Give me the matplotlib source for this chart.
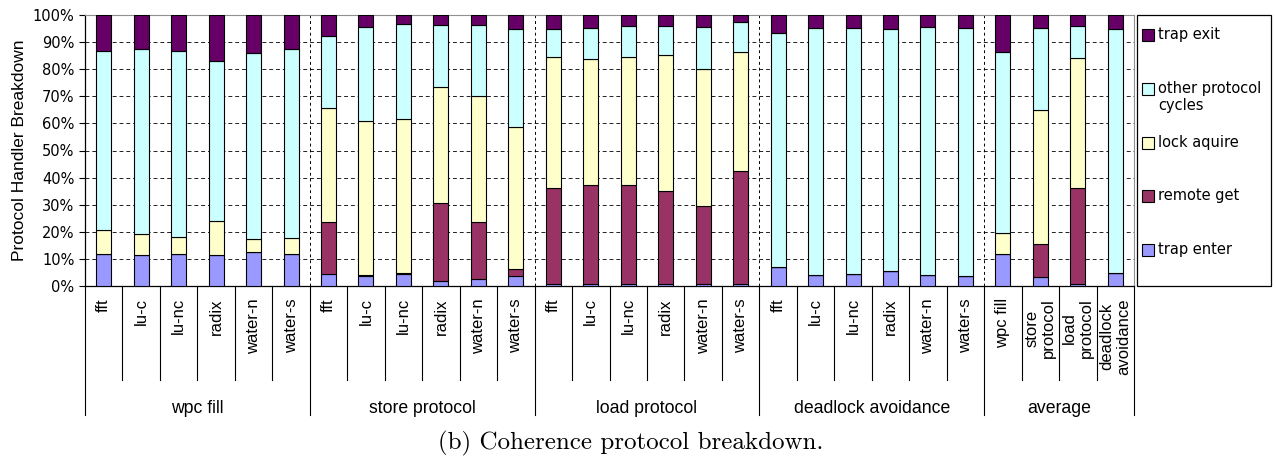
import numpy as np
import matplotlib
matplotlib.use('Agg')
import matplotlib.pyplot as plt
from matplotlib.patches import Rectangle
from matplotlib.ticker import FuncFormatter

# segment sizes in percent, one value per bar (6 benchmarks x 4 groups + 4 averages)
groups = ['wpc fill', 'store protocol', 'load protocol', 'deadlock avoidance', 'average']
benchmarks = ['fft', 'lu-c', 'lu-nc', 'radix', 'water-n', 'water-s']
avg_labels = ['wpc fill', 'store\nprotocol', 'load\nprotocol', 'deadlock\navoidance']

trap_enter = [11.8, 11.3, 11.7, 11.3, 12.4, 11.7,
	4.3, 3.8, 4.4, 1.8, 2.5, 3.6,
	0.7, 0.6, 0.6, 0.6, 0.9, 0.6,
	7.1, 4.2, 4.3, 5.4, 3.9, 3.7,
	11.7, 3.4, 0.6, 4.7]
remote_get = [0, 0, 0, 0, 0, 0,
	19.3, 0.2, 0.5, 29.0, 21.1, 2.8,
	35.5, 36.6, 36.7, 34.6, 28.5, 41.8,
	0, 0, 0, 0, 0, 0,
	0, 12.2, 35.7, 0]
lock_aquire = [9.0, 7.8, 6.3, 12.7, 5.0, 6.0,
	42.2, 57.0, 56.7, 42.7, 46.5, 52.1,
	48.4, 46.5, 47.2, 50.1, 50.8, 43.8,
	0, 0, 0, 0, 0, 0,
	7.8, 49.4, 47.8, 0]
other_cycles = [65.9, 68.2, 68.8, 59.1, 68.6, 69.6,
	26.4, 34.7, 35.1, 22.7, 26.3, 36.5,
	10.2, 11.6, 11.6, 10.5, 15.4, 11.3,
	86.2, 91.1, 91.0, 89.4, 91.8, 91.6,
	66.8, 30.3, 11.8, 90.1]
trap_exit = [13.3, 12.7, 13.2, 16.9, 14.0, 12.7,
	7.8, 4.3, 3.3, 3.8, 3.6, 5.0,
	5.2, 4.7, 3.9, 4.2, 4.4, 2.5,
	6.7, 4.7, 4.7, 5.2, 4.3, 4.7,
	13.7, 4.7, 4.1, 5.2]

series = [trap_enter, remote_get, lock_aquire, other_cycles, trap_exit]
names = ['trap enter', 'remote get', 'lock aquire', 'other protocol\ncycles', 'trap exit']
colors = ['#9999FF', '#993366', '#FFFFCC', '#CCFFFF', '#660066']

W, H = 1276, 458
fig = plt.figure(figsize=(W/100, H/100), dpi=100)
ax = fig.add_axes([85/W, 1-286/H, (1134-85)/W, (286-15)/H])

x = np.arange(len(trap_enter))
bottom = np.zeros(len(x))
for vals, col in zip(series, colors):
	ax.bar(x, vals, 0.4, bottom=bottom, color=col, edgecolor='black', linewidth=0.8, zorder=3)
	bottom = bottom + np.array(vals)

ax.set_xlim(-0.5, len(x)-0.5)
ax.set_ylim(0, 100)
ax.set_yticks(np.arange(0, 101, 10))
ax.yaxis.set_major_formatter(FuncFormatter(lambda v, p: '%d%%' % v))
ax.tick_params(axis='y', labelsize=10.5, length=4, width=0.8)
ax.yaxis.grid(True, color='#202020', linestyle=(0, (4, 3)), linewidth=0.7)
ax.set_axisbelow(True)
ax.set_xticks([])
for s in ['top', 'right']:
	ax.spines[s].set_color('#909090')
	ax.spines[s].set_linewidth(0.8)
ax.spines['left'].set_linewidth(0.9)
ax.spines['bottom'].set_linewidth(0.9)
ax.set_ylabel('Protocol Handler Breakdown', fontsize=12.5, family='Liberation Sans', labelpad=4)

# dashed separators between groups inside the plot
for g in range(1, 5):
	ax.axvline(g*6-0.5, color='black', linestyle=(0, (3, 3)), linewidth=0.7, zorder=1)

# two-level category axis
trans = ax.get_xaxis_transform()
cat_labels = benchmarks*4 + avg_labels
for i, lab in enumerate(cat_labels):
	ax.text(i, -0.045, lab, rotation=90, ha='center', va='top', multialignment='center',
		fontsize=12, family='Liberation Sans', transform=trans, linespacing=1.15)
for i in range(len(x)+1):
	if i % 6 == 0 or i == len(x):
		ax.plot([i-0.5, i-0.5], [0, -0.476], color='black', lw=0.8, transform=trans, clip_on=False)
	else:
		ax.plot([i-0.5, i-0.5], [0, -0.347], color='black', lw=0.8, transform=trans, clip_on=False)
starts = [0, 6, 12, 18, 24]
sizes = [6, 6, 6, 6, 4]
for g, s, n in zip(groups, starts, sizes):
	ax.text(s+n/2-0.5, -0.469, g, ha='center', va='baseline', fontsize=12.7,
		family='Liberation Sans', transform=trans)

# legend box on the right
def fx(px):
	return px/W
def fy(py):
	return 1-py/H
fig.add_artist(Rectangle((fx(1137), fy(286)), fx(1271)-fx(1137), fy(15)-fy(286),
	transform=fig.transFigure, facecolor='white', edgecolor='black', linewidth=0.9))
rows = np.linspace(35, 250, 5)
for yc, name, col in zip(rows, names[::-1], colors[::-1]):
	fig.add_artist(Rectangle((fx(1142), fy(yc+6)), fx(12), 12/H, transform=fig.transFigure,
		facecolor=col, edgecolor='black', linewidth=0.8))
	fig.text(fx(1158), fy(yc-8), name, ha='left', va='top', fontsize=10.5)

fig.text(fx(631), fy(443), '(b) Coherence protocol breakdown.', ha='center', va='center',
	fontsize=18, family='cmr10')

fig.savefig('out.png', dpi=100)
